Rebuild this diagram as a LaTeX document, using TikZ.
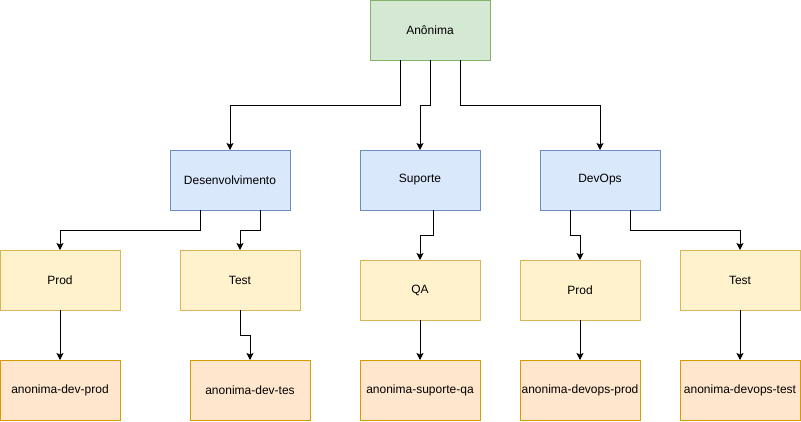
\documentclass[tikz,border=0pt]{standalone}
\usepackage{fontspec}
\setmainfont{Liberation Sans}
\usetikzlibrary{positioning,arrows.meta}
\definecolor{OrgRootFill}{HTML}{D5E8D4}
\definecolor{OrgRootLine}{HTML}{82B366}
\definecolor{OrgTeamFill}{HTML}{DAE8FC}
\definecolor{OrgTeamLine}{HTML}{6C8EBF}
\definecolor{OrgEnvFill}{HTML}{FFF2CC}
\definecolor{OrgEnvLine}{HTML}{D6B656}
\definecolor{OrgNsFill}{HTML}{FFE6CC}
\definecolor{OrgNsLine}{HTML}{D79B00}
\tikzset{
  org box/.style={
    draw,
    line width=1pt,
    align=center,
    font=\fontsize{12}{14}\selectfont,
    inner sep=0pt,
    outer sep=0pt,
    minimum width=120pt,
    minimum height=60pt
  },
  org root/.style={org box, fill=OrgRootFill, draw=OrgRootLine},
  org team/.style={org box, fill=OrgTeamFill, draw=OrgTeamLine},
  org env/.style={org box, fill=OrgEnvFill, draw=OrgEnvLine},
  org ns/.style={org box, fill=OrgNsFill, draw=OrgNsLine},
  org arrow/.style={-{Stealth[length=7pt,width=7pt,inset=1.5pt]}, line width=1pt, black}
}

\begin{document}
\begin{tikzpicture}
\useasboundingbox (0pt,0pt) rectangle (801pt,-421pt);
\node[org root] (anon) at (430pt,-30pt) {Anônima};
\node[org team, below left=90pt and 80pt of anon] (dev) {Desenvolvimento};
\node[org team, below=90pt of anon, xshift=-10pt] (sup) {Suporte};
\node[org team, below right=90pt and 50pt of anon] (dvo) {DevOps};
\node[org env, below left=40pt and 50pt of dev] (devprod) {Prod};
\node[org env, below=40pt of dev, xshift=10pt] (devtest) {Test};
\node[org env, below=50pt of sup] (supqa) {QA};
\node[org env, below=50pt of dvo, xshift=-20pt] (dvoprod) {Prod};
\node[org env, below right=40pt and 20pt of dvo] (dvotest) {Test};
\node[org ns, below=50pt of devprod] (nsdevprod) {anonima-dev-prod};
\node[org ns, below=50pt of devtest, xshift=10pt] (nsdevtest) {anonima-dev-tes};
\node[org ns, below=40pt of supqa] (nssupqa) {anonima-suporte-qa};
\node[org ns, below=40pt of dvoprod] (nsdvoprod) {anonima-devops-prod};
\node[org ns, below=50pt of dvotest] (nsdvotest) {anonima-devops-test};
\draw[org arrow] ([xshift=-30pt]anon.south) -- ++(0,-45pt) -| (dev.north);
\draw[org arrow] (anon.south) -- ++(0,-45pt) -| (sup.north);
\draw[org arrow] ([xshift=30pt]anon.south) -- ++(0,-45pt) -| (dvo.north);
\draw[org arrow] ([xshift=-30pt]dev.south) -- ++(0,-20pt) -| (devprod.north);
\draw[org arrow] ([xshift=30pt]dev.south) -- ++(0,-20pt) -| (devtest.north);
\draw[org arrow] ([xshift=13pt]sup.south) -- ++(0,-25pt) -| (supqa.north);
\draw[org arrow] ([xshift=-30pt]dvo.south) -- ++(0,-25pt) -| (dvoprod.north);
\draw[org arrow] ([xshift=30pt]dvo.south) -- ++(0,-20pt) -| (dvotest.north);
\draw[org arrow] (devprod) -- (nsdevprod);
\draw[org arrow] (devtest.south) -- ++(0,-25pt) -| (nsdevtest.north);
\draw[org arrow] (supqa) -- (nssupqa);
\draw[org arrow] (dvoprod) -- (nsdvoprod);
\draw[org arrow] (dvotest) -- (nsdvotest);
\end{tikzpicture}
\end{document}
